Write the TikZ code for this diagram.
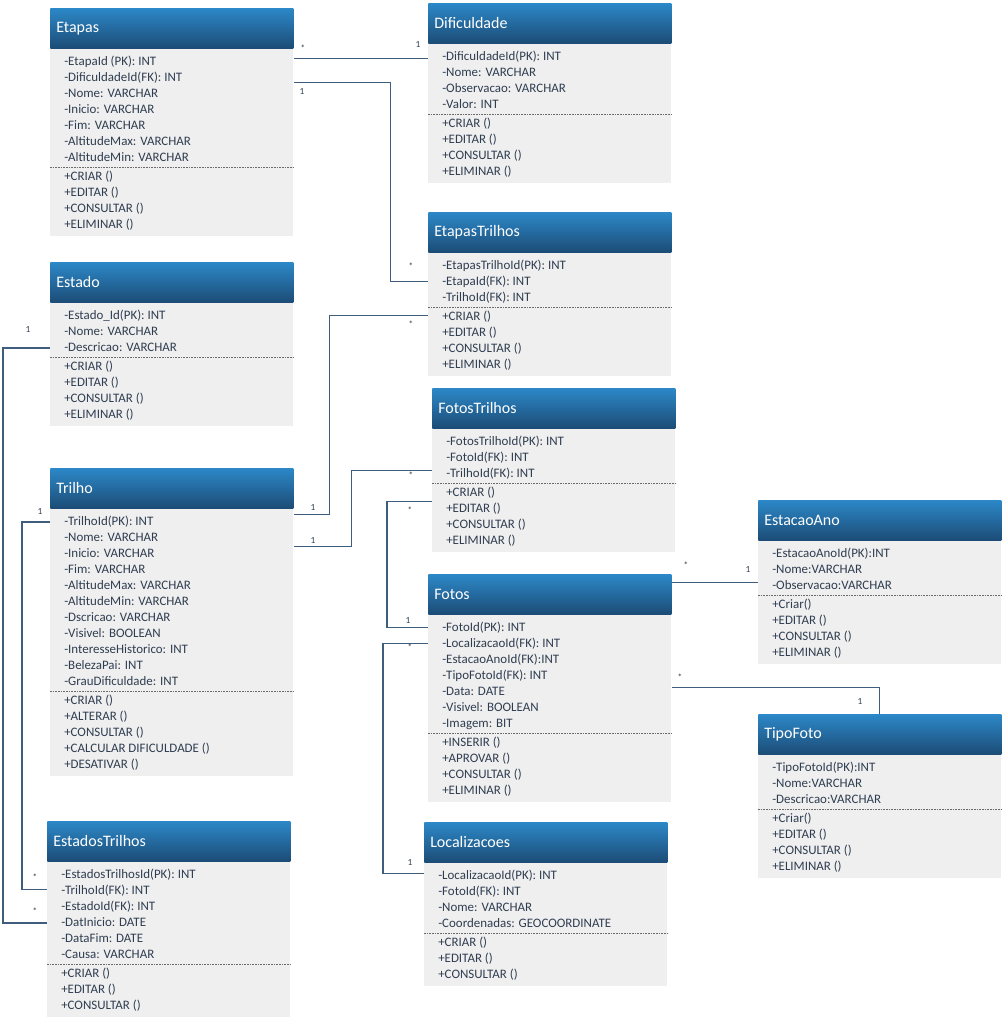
\documentclass[tikz,border=0pt]{standalone}
\usepackage{fontspec}
\setmainfont{Carlito}
\usetikzlibrary{calc}

\definecolor{hdrtop}{HTML}{2C88C8}
\definecolor{hdrbot}{HTML}{1C4C76}
\definecolor{bodyfill}{HTML}{EFEFEF}
\definecolor{rowtext}{HTML}{2F3D50}
\definecolor{linkcol}{HTML}{3F5E7E}
\definecolor{sepcol}{HTML}{6A6A6A}

\tikzset{
  hdr/.style={draw=none, inner sep=0, minimum width=182.3pt, minimum height=30pt,
              top color=hdrtop, bottom color=hdrbot},
  ttl/.style={anchor=west, inner sep=0, text=white, font=\fontsize{12}{14}\selectfont},
  bodybox/.style={draw=none, fill=bodyfill, inner sep=0, minimum width=182.3pt},
  row/.style={anchor=west, inner sep=0, text=rowtext, text height=7pt, text depth=2pt,
              font=\fontsize{9.7}{11}\selectfont},
  sepline/.style={draw=sepcol, line width=0.5pt, dash pattern=on 1.2pt off 0.8pt},
  conn/.style={draw=linkcol, line width=1pt},
  lbl/.style={inner sep=0, text=rowtext, font=\fontsize{7}{8}\selectfont}
}

% #1 id, #2 left, #3 top, #4 title, #5 attributes, #6 methods, #7 no. attributes, #8 no. methods
\newcommand\umlclass[8]{%
  \node[hdr, anchor=north west] (#1) at (#2,#3) {};
  \node[ttl] (#1-t) at ($(#1.west)+(6,0)$) {#4};
  \pgfmathsetmacro\bodyh{(43.5+16*(#7+#8-2))*0.75}
  \node[bodybox, anchor=north west, minimum height=\bodyh pt] (#1-b) at (#1.south west) {};
  \foreach \r [count=\i] in {#5}
    \node[row] (#1-a\i) at ($(#1-b.north west)+(14,{13.5+16*(\i-1)})$) {\r};
  \pgfmathsetmacro\sepy{13.5+16*(#7-1)+9.5}
  \draw[sepline] ($(#1-b.north west)+(0,\sepy)$) -- ($(#1-b.north east)+(0,\sepy)$);
  \foreach \r [count=\i] in {#6}
    \node[row] (#1-m\i) at ($(#1-b.north west)+(14,{\sepy+9.5+16*(\i-1)})$) {\r};
}

\begin{document}
\begin{tikzpicture}[x=0.75pt, y=-0.75pt]
\fill[white] (0,0) rectangle (1004,1020);
\useasboundingbox (0,0) rectangle (1004,1020);

\umlclass{etapas}{50}{8}{Etapas}
  {-EtapaId (PK): INT, -DificuldadeId(FK): INT, -Nome: VARCHAR, -Inicio: VARCHAR, -Fim: VARCHAR, -AltitudeMax: VARCHAR, -AltitudeMin: VARCHAR}
  {+CRIAR (), +EDITAR (), +CONSULTAR (), +ELIMINAR ()}{7}{4}

\umlclass{dific}{428}{3}{Dificuldade}
  {-DificuldadeId(PK): INT, -Nome: VARCHAR, -Observacao: VARCHAR, -Valor: INT}
  {+CRIAR (), +EDITAR (), +CONSULTAR (), +ELIMINAR ()}{4}{4}

\umlclass{etr}{428}{212}{EtapasTrilhos}
  {-EtapasTrilhoId(PK): INT, -EtapaId(FK): INT, -TrilhoId(FK): INT}
  {+CRIAR (), +EDITAR (), +CONSULTAR (), +ELIMINAR ()}{3}{4}

\umlclass{estado}{50}{262}{Estado}
  {-Estado\_Id(PK): INT, -Nome: VARCHAR, -Descricao: VARCHAR}
  {+CRIAR (), +EDITAR (), +CONSULTAR (), +ELIMINAR ()}{3}{4}

\umlclass{trilho}{50}{468}{Trilho}
  {-TrilhoId(PK): INT, -Nome: VARCHAR, -Inicio: VARCHAR, -Fim: VARCHAR, -AltitudeMax: VARCHAR, -AltitudeMin: VARCHAR, -Dscricao: VARCHAR, -Visivel: BOOLEAN, -InteresseHistorico: INT, -BelezaPai: INT, -GrauDificuldade: INT}
  {+CRIAR (), +ALTERAR (), +CONSULTAR (), +CALCULAR DIFICULDADE (), +DESATIVAR ()}{11}{5}

\umlclass{ftr}{432}{388}{FotosTrilhos}
  {-FotosTrilhoId(PK): INT, -FotoId(FK): INT, -TrilhoId(FK): INT}
  {+CRIAR (), +EDITAR (), +CONSULTAR (), +ELIMINAR ()}{3}{4}

\umlclass{fotos}{428}{574}{Fotos}
  {-FotoId(PK): INT, -LocalizacaoId(FK): INT, -EstacaoAnoId(FK):INT, -TipoFotoId(FK): INT, -Data: DATE, -Visivel: BOOLEAN, -Imagem: BIT}
  {+INSERIR (), +APROVAR (), +CONSULTAR (), +ELIMINAR ()}{7}{4}

\umlclass{estano}{758}{500}{EstacaoAno}
  {-EstacaoAnoId(PK):INT, -Nome:VARCHAR, -Observacao:VARCHAR}
  {+Criar(), +EDITAR (), +CONSULTAR (), +ELIMINAR ()}{3}{4}

\umlclass{tipo}{758}{714}{TipoFoto}
  {-TipoFotoId(PK):INT, -Nome:VARCHAR, -Descricao:VARCHAR}
  {+Criar(), +EDITAR (), +CONSULTAR (), +ELIMINAR ()}{3}{4}

\umlclass{esttr}{47}{821}{EstadosTrilhos}
  {-EstadosTrilhosId(PK): INT, -TrilhoId(FK): INT, -EstadoId(FK): INT, -DatInicio: DATE, -DataFim: DATE, -Causa: VARCHAR}
  {+CRIAR (), +EDITAR (), +CONSULTAR ()}{6}{3}

\umlclass{loc}{424}{822}{Localizacoes}
  {-LocalizacaoId(PK): INT, -FotoId(FK): INT, -Nome: VARCHAR, -Coordenadas: GEOCOORDINATE}
  {+CRIAR (), +EDITAR (), +CONSULTAR ()}{4}{3}

% associations
\draw[conn] ($(etapas-b.north east)+(0,10)$) coordinate (e1) -- (e1 -| dific-b.west);
\draw[conn] ($(etapas-b.north east)+(0,34)$) -- ++(97,0) |- ($(etr-b.north west)+(0,29)$);
\draw[conn] ($(trilho-b.north east)+(0,6)$) -- ++(36,0) |- ($(etr-b.north west)+(0,63)$);
\draw[conn] ($(trilho-b.north east)+(0,38)$) -- ++(58,0) |- ($(ftr-b.north west)+(0,42)$);
\draw[conn] ($(ftr-b.north west)+(0,73)$) -- ++(-45,0) |- ($(fotos-b.north west)+(0,13)$);
\draw[conn] ($(fotos-b.north west)+(0,29)$) -- ++(-45,0) |- ($(loc-b.north west)+(0,11)$);
\draw[conn] ($(estano-b.north west)+(0,42)$) coordinate (e7) -- (e7 -| fotos.east);
\draw[conn] ($(fotos-b.north east)+(0,73)$) -| (tipo.north);
\draw[conn] (estado-a3 -| estado-b.west) -- ++(-47,0) |- (esttr-a4 -| esttr-b.west);
\draw[conn] (trilho-a1 -| trilho-b.west) -- ++(-28,0) |- ($(esttr-b.north west)+(0,28)$);

% multiplicities
\node[lbl] (m1a) at (303,48) {*};
\node[lbl] (m1b) at (418,44) {1};
\node[lbl] (m2a) at (302,91) {1};
\node[lbl] (m2b) at (411,266) {*};
\node[lbl] (m3a) at (313,507) {1};
\node[lbl] (m3b) at (411,324) {*};
\node[lbl] (m4a) at (313,540) {1};
\node[lbl] (m4b) at (411,475) {*};
\node[lbl] (m5a) at (410,510) {*};
\node[lbl] (m5b) at (408,620) {1};
\node[lbl] (m6a) at (410,647) {*};
\node[lbl] (m6b) at (410,862) {1};
\node[lbl] (m7a) at (686,565) {*};
\node[lbl] (m7b) at (748,569) {1};
\node[lbl] (m8a) at (680,677) {*};
\node[lbl] (m8b) at (860,701) {1};
\node[lbl] (m9a) at (28,329) {1};
\node[lbl] (m9b) at (35,911) {*};
\node[lbl] (m10a) at (40,511) {1};
\node[lbl] (m10b) at (35,877) {*};
\end{tikzpicture}
\end{document}
